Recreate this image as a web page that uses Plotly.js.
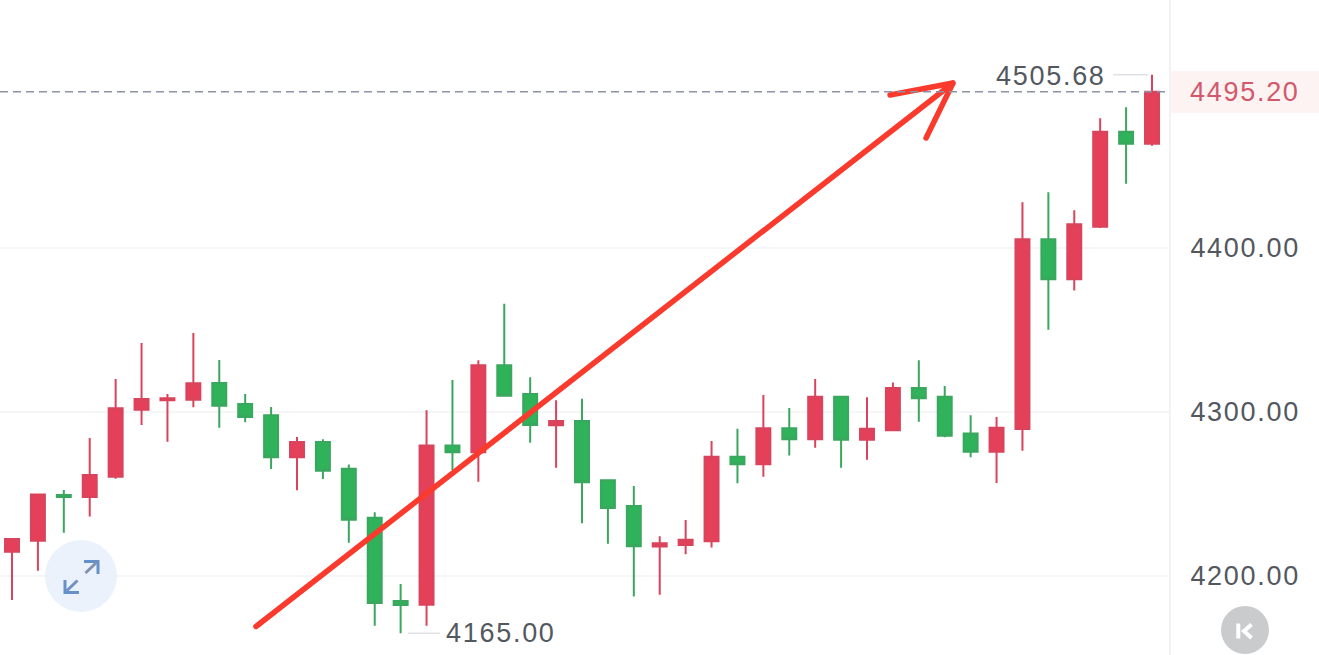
<!DOCTYPE html>
<html>
<head>
<meta charset="utf-8">
<script src="https://cdn.plot.ly/plotly-3.0.1.min.js"></script>
<style>
html,body{margin:0;padding:0;background:#fff;overflow:hidden}
#chart{width:1319px;height:655px}
#chart text{letter-spacing:1.7px}
#chart .js-line{stroke-linecap:round}
</style>
</head>
<body>
<div id="chart"></div>
<script>
const opens = [4214.8,4221.5,4249.4,4248.2,4260.5,4301.4,4307.1,4307.5,4317.7,4304.9,4298,4272.4,4281.7,4265.4,4235.5,4184.8,4182.5,4279.5,4275.4,4328.5,4311,4291.9,4294.5,4258.4,4242.7,4217.9,4218.9,4221.2,4272.7,4268.1,4290.1,4283.4,4309.3,4283.1,4288.8,4314.6,4309.3,4286.8,4275.8,4289.6,4405.3,4380.9,4413,4470.9,4463.6];
const highs = [4222.6,4249.6,4252.4,4284.1,4320.1,4342.1,4311,4348.2,4331.7,4311,4303,4284.8,4283.4,4267.9,4238.8,4195.1,4301,4319.5,4331.5,4366,4321.2,4307.1,4308.1,4258.4,4254.9,4224.2,4234.1,4282.3,4289.8,4310.4,4302.4,4320.1,4309.3,4309,4317.9,4331.5,4315.9,4298,4297,4427.9,4434,4423,4479.1,4485.8,4505.68];
const lows = [4185.4,4203.2,4226.4,4236.2,4259.3,4292.1,4281.9,4302.9,4290.4,4293.7,4265.2,4252.3,4259.1,4220.3,4169.7,4165,4169.7,4264.6,4257.5,4309.9,4281.3,4266,4232.1,4219.7,4187.4,4188.6,4213.2,4217.3,4256.5,4260.5,4273.4,4278.2,4266,4270.9,4288.4,4294.1,4284.6,4272.4,4256.7,4276.4,4350.2,4374,4412.2,4439.2,4462.4];
const closes = [4222.6,4249.6,4248.2,4261.6,4302.3,4307.9,4308.4,4317.5,4303.8,4297,4272.4,4281.7,4264.2,4234.3,4183.5,4182.3,4279.5,4275.4,4328.5,4309.9,4292.1,4294.5,4257.1,4241.5,4218.1,4219.9,4222.1,4272.7,4268.1,4290.1,4283.4,4309.3,4283.1,4289.8,4314.6,4308.4,4285.5,4275.8,4290.4,4405.3,4380.9,4414.5,4470.9,4463.6,4495.2];
const candleIndex = opens.map((_, i) => i);
const yTicks = [4200, 4300, 4400];
const lastPrice = 4495.2;
const highLabel = 4505.68;
const lowLabel = 4165;
const arrowX = [9.417, 36.32, null, 33.89, 36.32, 35.28];
const arrowY = [4169.2, 4500.6, null, 4493.3, 4500.6, 4467.1];

const PLOT_W = 1169, H = 655;
const px = x => x / PLOT_W;
const py = y => 1 - y / H;
const pathPx = pts => pts.map((p, i) => (i ? 'L' : 'M') + px(p[0]) + ',' + py(p[1])).join(' ');
const paperPath = (pts, color, width) => ({type:'path', xref:'paper', yref:'paper', layer:'above', path:pathPx(pts), line:{color, width}});
const font = {family:'"Liberation Sans", Arial, sans-serif', size:27, color:'#53585f'};

const traces = [
  {type:'candlestick', x:candleIndex, open:opens, high:highs, low:lows, close:closes,
   whiskerwidth:0, hoverinfo:'skip', showlegend:false,
   increasing:{line:{color:'#d9435c', width:2}, fillcolor:'#e5405a'},
   decreasing:{line:{color:'#3aa75e', width:2}, fillcolor:'#2fb25a'}},
  {type:'scatter', mode:'lines', x:arrowX, y:arrowY, hoverinfo:'skip', showlegend:false,
   connectgaps:false, line:{color:'#f93a2d', width:5.5}}
];

const layout = {
  width:1319, height:655, margin:{l:0, r:150, t:0, b:0, pad:0},
  paper_bgcolor:'#ffffff', plot_bgcolor:'#ffffff', showlegend:false, boxgap:0.23,
  xaxis:{visible:false, range:[-0.463, 44.656], rangeslider:{visible:false}, fixedrange:true},
  yaxis:{side:'right', range:[4151.8, 4551.2], tickmode:'array', tickvals:yTicks, tickformat:'.2f',
    tickfont:font, ticks:'', ticklabelstandoff:14, showgrid:true, gridcolor:'#f5f6f8', gridwidth:2,
    zeroline:false, showline:true, linecolor:'#f3f3f5', linewidth:2, fixedrange:true},
  shapes:[
    {type:'rect', xref:'paper', yref:'paper', layer:'below', x0:px(1171), x1:px(1319), y0:py(113), y1:py(71), line:{width:0}, fillcolor:'#fdf3f3'},
    {type:'line', xref:'paper', yref:'y', layer:'above', x0:0, x1:px(1165), y0:lastPrice, y1:lastPrice, line:{color:'#8d92a4', width:1.5, dash:'8px,5px'}},
    {type:'line', xref:'x', yref:'y', x0:42.5, x1:43.85, y0:highLabel, y1:highLabel, line:{color:'#dfe1e4', width:1.5}},
    {type:'line', xref:'x', yref:'y', x0:15.28, x1:16.52, y0:lowLabel, y1:lowLabel, line:{color:'#dfe1e4', width:1.5}},
    {type:'circle', xref:'paper', yref:'paper', layer:'above', x0:px(45), x1:px(117), y0:py(612), y1:py(540), line:{width:0}, fillcolor:'rgba(232,240,251,0.85)'},
    paperPath([[84,561.5],[98,561.5],[98,574]], '#6590c8', 3),
    paperPath([[85.5,573],[96.5,562.5]], '#7f93b0', 3),
    paperPath([[65,580],[65,592.5],[79,592.5]], '#6590c8', 3),
    paperPath([[66,591.5],[77.5,580.5]], '#6f92c2', 3),
    {type:'circle', xref:'paper', yref:'paper', layer:'above', x0:px(1221), x1:px(1269), y0:py(654), y1:py(606), line:{width:0}, fillcolor:'#c9cbcd'},
    paperPath([[1238.3,623.5],[1238.3,638.5]], '#ffffff', 4),
    paperPath([[1251.5,624.5],[1244,631],[1251.5,638]], '#ffffff', 4)
  ],
  annotations:[
    {xref:'paper', yref:'y', x:px(1194), y:lastPrice, xanchor:'left', yanchor:'middle', showarrow:false, text:lastPrice.toFixed(2), font:{family:font.family, size:27, color:'#d2596b'}},
    {xref:'x', yref:'y', x:38.12, y:highLabel, xanchor:'left', yanchor:'middle', yshift:-1, showarrow:false, text:highLabel.toFixed(2), font:font},
    {xref:'x', yref:'y', x:16.92, y:lowLabel, xanchor:'left', yanchor:'middle', showarrow:false, text:lowLabel.toFixed(2), font:font}
  ]
};
Plotly.newPlot('chart', traces, layout, {displayModeBar:false, staticPlot:true});
</script>
</body>
</html>
